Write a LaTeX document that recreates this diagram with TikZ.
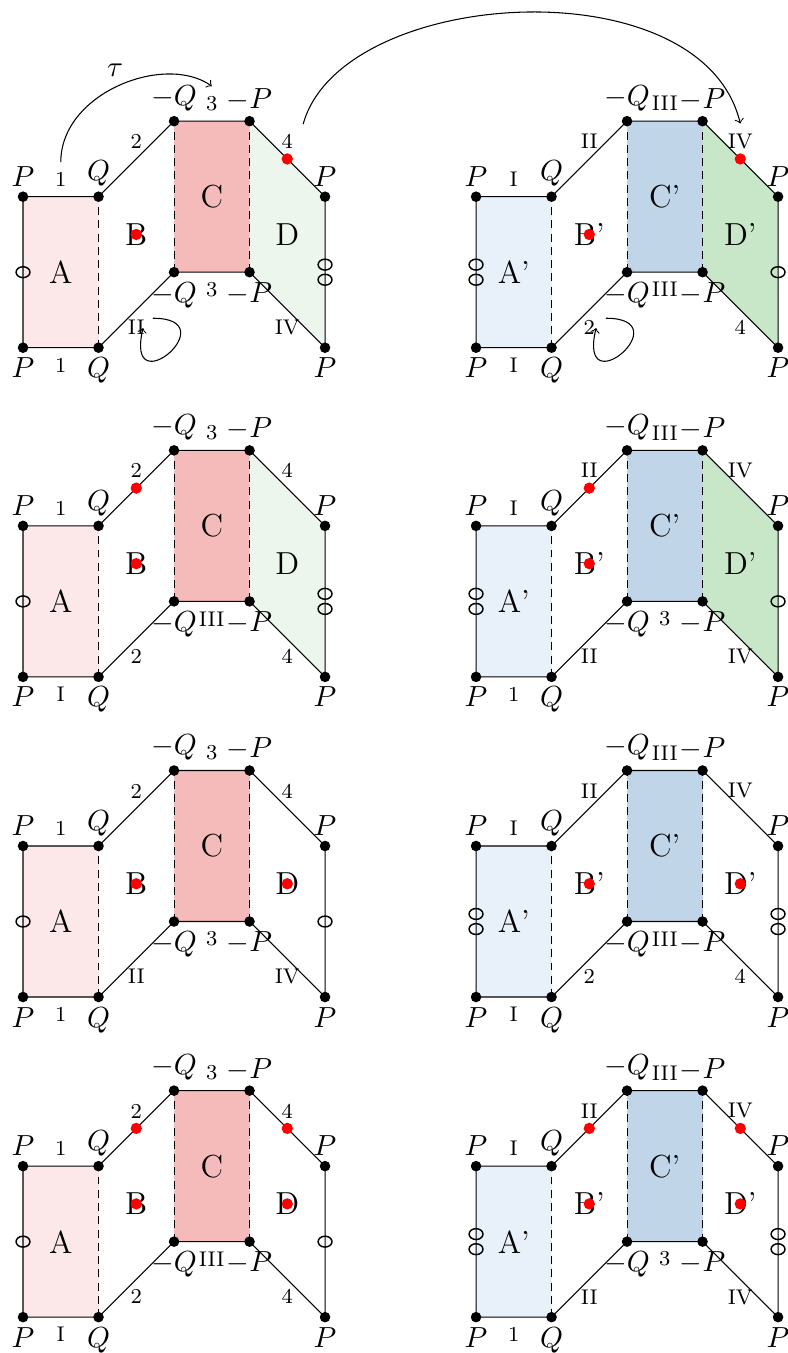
\documentclass[tikz,border=0pt,11pt]{standalone}
\usepackage{tikz}
\usetikzlibrary{calc}

\definecolor{pinkA}{RGB}{252,232,232}
\definecolor{redC}{RGB}{245,187,187}
\definecolor{greenD}{RGB}{236,246,236}
\definecolor{blueA}{RGB}{232,241,249}
\definecolor{blueC}{RGB}{192,214,232}
\definecolor{greenDp}{RGB}{200,231,200}

% #1 prefix, #2 #3 #4 fills of A C D, #5 prime, #6 #7 marker offsets
\newcommand{\drawpanel}[7]{%
  \coordinate (#1-p1) at (0,0);
  \coordinate (#1-p2) at (0,2);
  \coordinate (#1-q1) at (1,0);
  \coordinate (#1-q2) at (1,2);
  \coordinate (#1-mq1) at (2,1);
  \coordinate (#1-mq2) at (2,3);
  \coordinate (#1-mp1) at (3,1);
  \coordinate (#1-mp2) at (3,3);
  \coordinate (#1-r1) at (4,0);
  \coordinate (#1-r2) at (4,2);
  \coordinate (#1-lm) at (0,1);
  \coordinate (#1-rm) at (4,1);
  \fill[#2] (#1-p1) rectangle (#1-q2);
  \fill[#3] (#1-mq1) rectangle (#1-mp2);
  \fill[#4] (#1-mp1) -- (#1-mp2) -- (#1-r2) -- (#1-r1) -- cycle;
  \draw (#1-q1) -- (#1-p1) -- (#1-p2) -- (#1-q2) -- (#1-mq2) -- (#1-mp2) -- (#1-r2)
    -- (#1-r1) -- (#1-mp1) -- (#1-mq1) -- cycle;
  \draw[dashline] (#1-q1) -- (#1-q2) (#1-mq1) -- (#1-mq2) (#1-mp1) -- (#1-mp2);
  \foreach \o in {#6} \draw[marker] ($(#1-lm)+(0,\o)$) ellipse [x radius=0.092, y radius=0.072];
  \foreach \o in {#7} \draw[marker] ($(#1-rm)+(0,\o)$) ellipse [x radius=0.092, y radius=0.072];
  \node[region] (#1-A) at (0.5,1) {A#5};
  \node[region] (#1-B) at (1.5,1.5) {B#5};
  \node[region] (#1-C) at (2.5,2) {C#5};
  \node[region] (#1-D) at (3.5,1.5) {D#5};
  \node[below] (#1-lp1) at (#1-p1) {$P$};
  \node[above] (#1-lp2) at (#1-p2) {$P$};
  \node[below] (#1-lq1) at (#1-q1) {$Q$};
  \node[above] (#1-lq2) at (#1-q2) {$Q$};
  \node[below] (#1-lmq1) at (#1-mq1) {$-Q$};
  \node[above] (#1-lmq2) at (#1-mq2) {$-Q$};
  \node[below] (#1-lmp1) at (#1-mp1) {$-P$};
  \node[above] (#1-lmp2) at (#1-mp2) {$-P$};
  \node[below] (#1-lr1) at (#1-r1) {$P$};
  \node[above] (#1-lr2) at (#1-r2) {$P$};
  \foreach \v in {p1,p2,q1,q2,mq1,mq2,mp1,mp2,r1,r2}
    \node[vdot] (#1-d\v) at (#1-\v) {};
}

\newcommand{\edgelabels}[9]{%
  \node[elabel, above] (#1-e1) at (0.5,2) {#2};
  \node[elabel, below] (#1-e2) at (0.5,0) {#3};
  \node[elabel, above] (#1-e3) at (1.5,2.5) {#4};
  \node[elabel, below] (#1-e4) at (1.5,0.5) {#5};
  \node[elabel, above] (#1-e5) at (2.5,3) {#6};
  \node[elabel, below] (#1-e6) at (2.5,1) {#7};
  \node[elabel, above] (#1-e7) at (3.5,2.5) {#8};
  \node[elabel, below] (#1-e8) at (3.5,0.5) {#9};
}

\begin{document}
\begin{tikzpicture}[
vdot/.style={circle, fill=black, inner sep=0pt, minimum size=0.14cm},
reddot/.style={circle, fill=red, inner sep=0pt, minimum size=0.15cm},
elabel/.style={font=\scriptsize},
region/.style={font=\large},
marker/.style={line width=0.55pt},
dashline/.style={dash pattern=on 3pt off 2pt},
nofill/.style={fill=none}
]
\useasboundingbox (-0.305,-13.315) rectangle (10.12,4.605);

\begin{scope}
\drawpanel{La}{pinkA}{redC}{greenD}{}{0}{-0.1,0.1}
\edgelabels{La}{1}{1}{2}{II}{3}{3}{4}{IV}
\node[reddot] (La-xB) at (1.5,1.5) {};
\node[reddot] (La-x4) at (3.5,2.5) {};
\coordinate (La-ls) at (1.72,0.39);
\coordinate (La-le) at (1.59,0.26);
\draw[->] (La-ls) .. controls +(1.0,0.0) and +(-0.25,-1.05) .. (La-le);
\draw[->] (La-e1.north) .. controls +(0,0.92) and +(-0.62,0.44) .. (La-e5.north);
\node (tau) at (1.22,3.67) {$\tau$};
\end{scope}

\begin{scope}[shift={(6,0)}]
\drawpanel{Ra}{blueA}{blueC}{greenDp}{'}{-0.1,0.1}{0}
\edgelabels{Ra}{I}{I}{II}{2}{III}{III}{IV}{4}
\node[reddot] (Ra-xB) at (1.5,1.5) {};
\node[reddot] (Ra-x4) at (3.5,2.5) {};
\coordinate (Ra-ls) at (1.72,0.39);
\coordinate (Ra-le) at (1.59,0.26);
\draw[->] (Ra-ls) .. controls +(1.0,0.0) and +(-0.25,-1.05) .. (Ra-le);
\end{scope}

\draw[->] (La-e7.north east) .. controls +(0.5,1.82) and +(-0.51,2.12) .. (Ra-e7.north);

\begin{scope}[shift={(0,-4.36)}]
\drawpanel{Lb}{pinkA}{redC}{greenD}{}{0}{-0.1,0.1}
\edgelabels{Lb}{1}{I}{2}{2}{3}{III}{4}{4}
\node[reddot] (Lb-xB) at (1.5,1.5) {};
\node[reddot] (Lb-x2) at (1.5,2.5) {};
\end{scope}

\begin{scope}[shift={(6,-4.36)}]
\drawpanel{Rb}{blueA}{blueC}{greenDp}{'}{-0.1,0.1}{0}
\edgelabels{Rb}{I}{1}{II}{II}{III}{3}{IV}{IV}
\node[reddot] (Rb-xB) at (1.5,1.5) {};
\node[reddot] (Rb-x2) at (1.5,2.5) {};
\end{scope}

\begin{scope}[shift={(0,-8.6)}]
\drawpanel{Lc}{pinkA}{redC}{nofill}{}{0}{0}
\edgelabels{Lc}{1}{1}{2}{II}{3}{3}{4}{IV}
\node[reddot] (Lc-xB) at (1.5,1.5) {};
\node[reddot] (Lc-xD) at (3.5,1.5) {};
\end{scope}

\begin{scope}[shift={(6,-8.6)}]
\drawpanel{Rc}{blueA}{blueC}{nofill}{'}{-0.1,0.1}{-0.1,0.1}
\edgelabels{Rc}{I}{I}{II}{2}{III}{III}{IV}{4}
\node[reddot] (Rc-xB) at (1.5,1.5) {};
\node[reddot] (Rc-xD) at (3.5,1.5) {};
\end{scope}

\begin{scope}[shift={(0,-12.84)}]
\drawpanel{Ld}{pinkA}{redC}{nofill}{}{0}{0}
\edgelabels{Ld}{1}{I}{2}{2}{3}{III}{4}{4}
\node[reddot] (Ld-xB) at (1.5,1.5) {};
\node[reddot] (Ld-xD) at (3.5,1.5) {};
\node[reddot] (Ld-x2) at (1.5,2.5) {};
\node[reddot] (Ld-x4) at (3.5,2.5) {};
\end{scope}

\begin{scope}[shift={(6,-12.84)}]
\drawpanel{Rd}{blueA}{blueC}{nofill}{'}{-0.1,0.1}{-0.1,0.1}
\edgelabels{Rd}{I}{1}{II}{II}{III}{3}{IV}{IV}
\node[reddot] (Rd-xB) at (1.5,1.5) {};
\node[reddot] (Rd-xD) at (3.5,1.5) {};
\node[reddot] (Rd-x2) at (1.5,2.5) {};
\node[reddot] (Rd-x4) at (3.5,2.5) {};
\end{scope}
\end{tikzpicture}
\end{document}
